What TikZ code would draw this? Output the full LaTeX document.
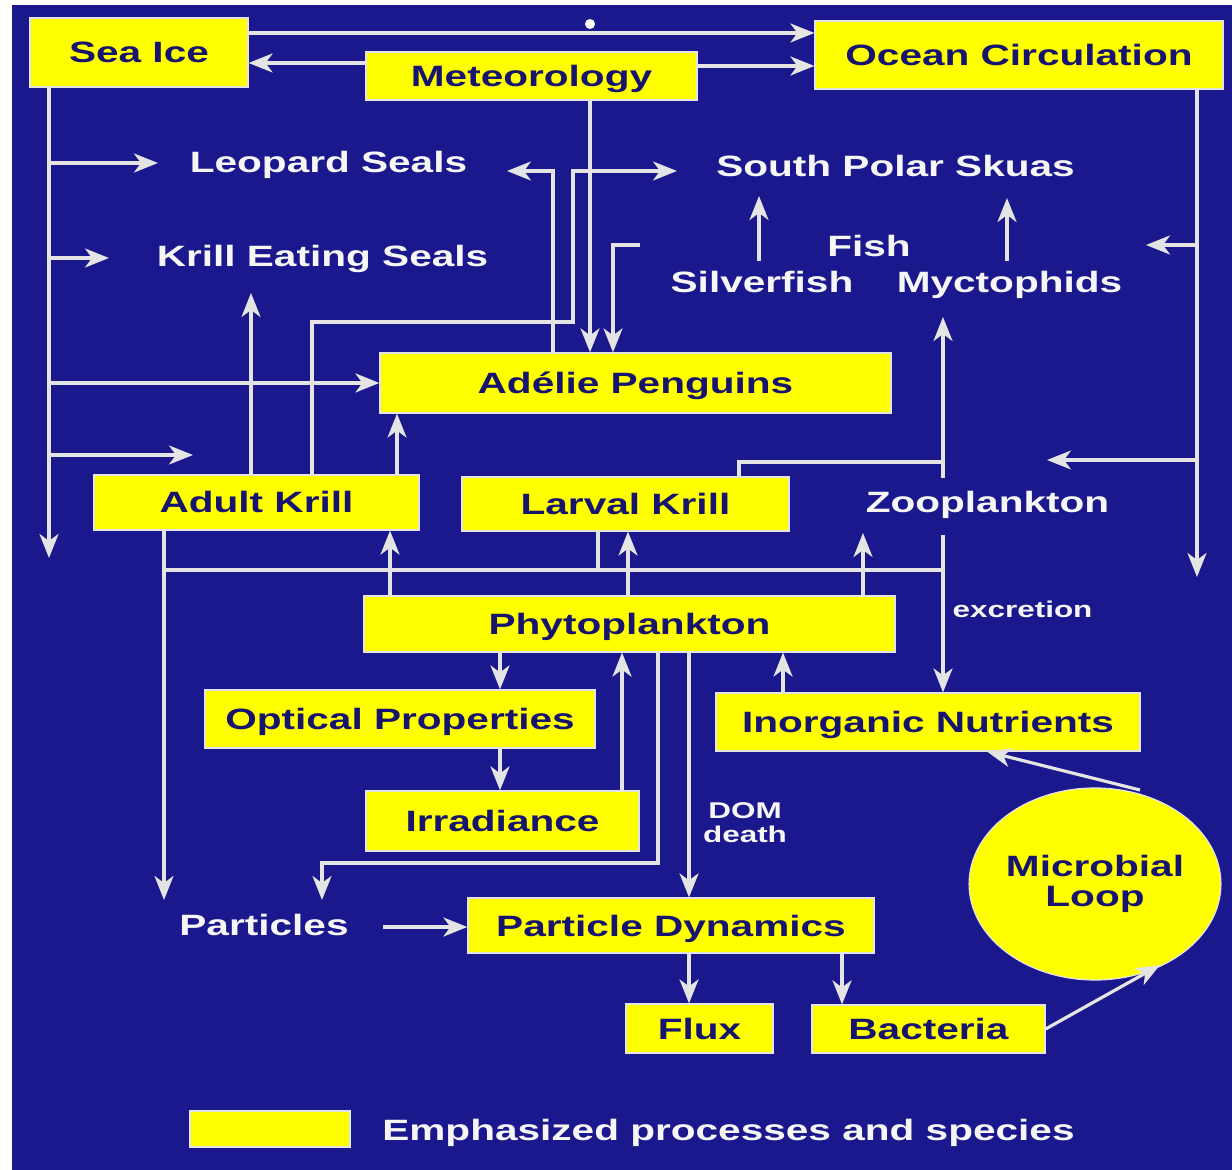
\documentclass[tikz,border=0pt]{standalone}
\usepackage{fontspec}
\usetikzlibrary{arrows.meta,shapes.geometric,calc}
\newfontfamily\bfnt{Liberation Sans Bold}[FakeStretch=1.38]
\definecolor{bg}{RGB}{26,24,140}
\definecolor{ylw}{RGB}{255,255,0}
\definecolor{navy}{RGB}{22,20,110}
\definecolor{ln}{RGB}{228,228,228}
\begin{document}
\begin{tikzpicture}[x=0.5pt,y=-0.5pt,
  box/.style={draw=ln, line width=0.6pt, fill=ylw, inner sep=0pt, text=navy,
    font=\bfnt\fontsize{14.7}{17}\selectfont, text height=10.5pt, text depth=0pt},
  lbl/.style={text=white!93!gray, font=\bfnt\fontsize{14.7}{17}\selectfont, inner sep=0pt, anchor=base},
  small/.style={text=white!93!gray, font=\bfnt\fontsize{11.4}{13}\selectfont, inner sep=0pt, anchor=base},
  conn/.style={draw=ln, line width=1.6pt},
  arr/.style={conn, -{Stealth[length=12pt,width=9.5pt,inset=3.5pt]}},
]
\fill[white] (0,0) rectangle (1232,1170);
\fill[bg] (12,5) rectangle (1232,1170);
\useasboundingbox (0,0) rectangle (1232,1170);
\fill[white] (590,24) circle (2.5pt);

% boxes
\node[box, minimum width=109pt, minimum height=34.5pt] (seaice) at (139,52.5) {Sea Ice};
\node[box, minimum width=165.5pt, minimum height=24pt] (meteo) at (531.5,76) {Meteorology};
\node[box, minimum width=204pt, minimum height=34pt] (ocean) at (1019,55) {Ocean Circulation};
\node[box, minimum width=255.5pt, minimum height=30pt] (adelie) at (635.5,383) {Adélie Penguins};
\node[box, minimum width=162.5pt, minimum height=27.5pt] (adult) at (256.5,502.5) {Adult Krill};
\node[box, minimum width=163.5pt, minimum height=27pt] (larval) at (625.5,504) {Larval Krill};
\node[box, minimum width=265.5pt, minimum height=28pt] (phyto) at (629.5,624) {Phytoplankton};
\node[box, minimum width=195pt, minimum height=29pt] (optical) at (400,719) {Optical Properties};
\node[box, minimum width=136.5pt, minimum height=30pt] (irrad) at (502.5,821) {Irradiance};
\node[box, minimum width=212pt, minimum height=29pt] (inorg) at (928,722) {Inorganic Nutrients};
\node[box, minimum width=203pt, minimum height=27.5pt] (pd) at (671,925.5) {Particle Dynamics};
\node[box, minimum width=73.5pt, minimum height=24.5pt] (flux) at (699.5,1028.5) {Flux};
\node[box, minimum width=116.5pt, minimum height=24pt] (bact) at (928.5,1029) {Bacteria};
\node[ellipse, draw=ln, line width=0.6pt, fill=ylw, minimum width=122.5pt, minimum height=96pt,
  inner sep=0pt, text=navy, align=center, font=\bfnt\fontsize{14.7}{15}\selectfont] (microbial) at (1095,884) {Microbial\\Loop};
\node[box, minimum width=80pt, minimum height=18pt] (legbox) at (270,1129) {};

% white labels
\node[lbl] (leopard) at (328.5,173) {Leopard Seals};
\node[lbl] (krilleat) at (322.5,267) {Krill Eating Seals};
\node[lbl] (skuas) at (895.5,177) {South Polar Skuas};
\node[lbl] (fish) at (869,257) {Fish};
\node[lbl] (silver) at (762,293) {Silverfish};
\node[lbl] (mycto) at (1009.5,293) {Myctophids};
\node[lbl] (zoo) at (987.5,513) {Zooplankton};
\node[lbl] (particles) at (264,935) {Particles};
\node[lbl] (legtxt) at (728.5,1140) {Emphasized processes and species};
\node[small] (excr) at (1022.5,618) {excretion};
\node[small] (dom) at (745,818) {DOM};
\node[small] (death) at (745,842) {death};

% top connectors
\coordinate (s33) at (500,33);
\draw[arr] (seaice.east |- s33) -- (ocean.west |- s33);
\coordinate (m63) at (300,63);
\draw[arr] (meteo.west |- m63) -- (seaice.east |- m63);
\coordinate (m66) at (750,66);
\draw[arr] (meteo.east |- m66) -- (ocean.west |- m66);
\coordinate (m590) at (590,200);
\draw[arr] (meteo.south -| m590) -- (adelie.north -| m590);

% Sea Ice column
\coordinate (siend) at (49,558);
\draw[arr] (seaice.south -| siend) -- (siend);
\coordinate (leoptip) at (158,163);
\draw[arr] (siend |- leoptip) -- (leoptip);
\coordinate (ketip) at (109,258);
\draw[arr] (siend |- ketip) -- (ketip);
\draw[arr] (siend |- adelie.west) -- (adelie.west);
\coordinate (kriltip) at (193,455);
\draw[arr] (siend |- kriltip) -- (kriltip);

% Adelie -> Leopard Seals
\coordinate (a553) at (553,171);
\coordinate (leopr) at (507,171);
\draw[arr] (adelie.north -| a553) -- (a553) -- (leopr);

% Adult Krill -> South Polar Skuas
\coordinate (k312) at (312,322);
\coordinate (k573) at (573,322);
\coordinate (skutip) at (677,171);
\draw[arr] (adult.north -| k312) -- (k312) -- (k573) |- (skutip);

% Fish -> Adelie
\coordinate (fishst) at (640,245);
\coordinate (f613) at (613,245);
\draw[arr] (fishst) -- (f613) -- (adelie.north -| f613);

% Fish -> Skuas
\coordinate (sv1) at (759,261);
\coordinate (sv2) at (759,196);
\draw[arr] (sv1) -- (sv2);
\coordinate (my1) at (1007,261);
\coordinate (my2) at (1007,198);
\draw[arr] (my1) -- (my2);

% Adult Krill -> seals, penguins
\coordinate (ke2) at (251,293);
\draw[arr] (adult.north -| ke2) -- (ke2);
\coordinate (ad397) at (397,450);
\draw[arr] (adult.north -| ad397) -- (adelie.south -| ad397);

% Ocean column
\coordinate (ocend) at (1197,577);
\draw[arr] (ocean.south -| ocend) -- (ocend);
\coordinate (oc1) at (1146,245);
\draw[arr] (ocend |- oc1) -- (oc1);
\coordinate (oc2) at (1047,460);
\draw[arr] (ocend |- oc2) -- (oc2);

% Zooplankton -> Myctophids, Larval krill joins
\coordinate (z1) at (943,478);
\coordinate (z2) at (943,317);
\draw[arr] (z1) -- (z2);
\coordinate (lk) at (739,462);
\draw[conn] (larval.north -| lk) -- (lk) -- (lk -| z1);

% collector to Particles, excretion
\coordinate (zb) at (943,535);
\draw[arr] (zb) -- (inorg.north -| zb);
\coordinate (col) at (164,570);
\draw[conn] (zb |- col) -- (col);
\coordinate (parttip) at (164,900);
\draw[arr] (adult.south -| col) -- (parttip);
\coordinate (lk2) at (598,570);
\draw[conn] (larval.south -| lk2) -- (lk2);

% Phytoplankton up
\coordinate (p390) at (390,560);
\draw[arr] (phyto.north -| p390) -- (adult.south -| p390);
\coordinate (p628) at (628,560);
\draw[arr] (phyto.north -| p628) -- (larval.south -| p628);
\coordinate (p863) at (863,533);
\draw[arr] (phyto.north -| p863) -- (p863);

% Phytoplankton down
\coordinate (p500) at (500,670);
\draw[arr] (phyto.south -| p500) -- (optical.north -| p500);
\draw[arr] (optical.south -| p500) -- (irrad.north -| p500);
\coordinate (p622) at (622,700);
\draw[arr] (irrad.north -| p622) -- (phyto.south -| p622);
\coordinate (p658) at (658,863);
\coordinate (p322) at (322,863);
\coordinate (p322t) at (322,900);
\draw[arr] (phyto.south -| p658) -- (p658) -- (p322) -- (p322t);
\coordinate (p689) at (689,800);
\draw[arr] (phyto.south -| p689) -- (pd.north -| p689);
\coordinate (p783) at (783,670);
\draw[arr] (inorg.north -| p783) -- (phyto.south -| p783);

% Microbial loop
\coordinate (in987) at (987,752);
\draw[arr] ($(microbial.center)+(45,-94)$) -- (inorg.south -| in987);
\draw[arr] (bact.east) -- ($(microbial.center)+(65,81)$);

% Particles -> Particle Dynamics -> Flux, Bacteria
\coordinate (pa) at (383,927);
\draw[arr] (pa) -- (pd.west |- pa);
\draw[arr] (pd.south -| p689) -- (flux.north -| p689);
\coordinate (p842) at (842,980);
\draw[arr] (pd.south -| p842) -- (bact.north -| p842);
\end{tikzpicture}
\end{document}
